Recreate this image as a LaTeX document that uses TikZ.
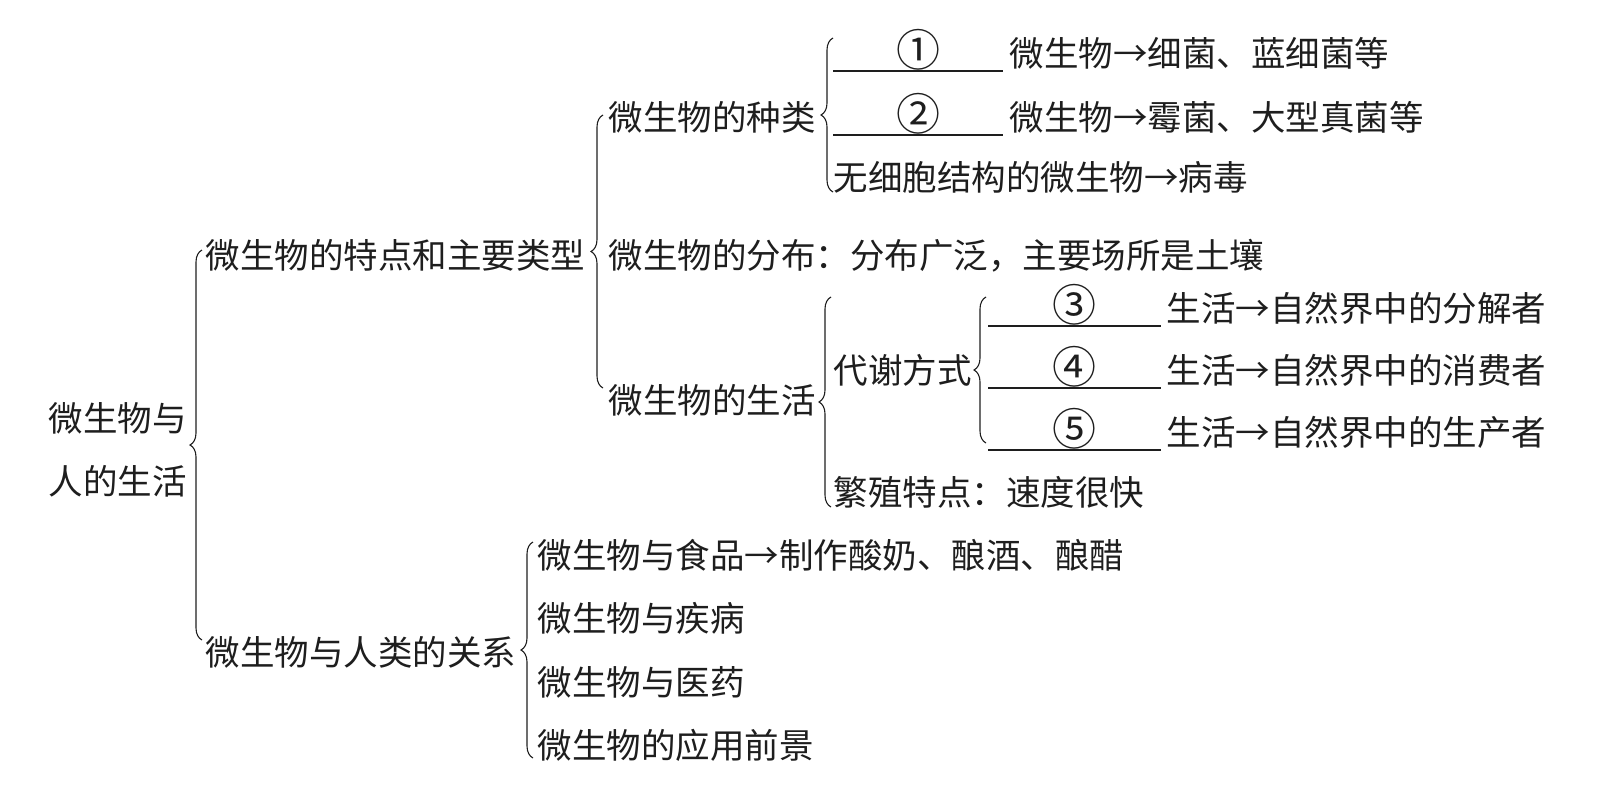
\documentclass[tikz,border=0pt]{standalone}
\usepackage{fontspec}
\newfontfamily\cjkfont{Noto Sans CJK SC}
\usepackage{xcolor}
\definecolor{ink}{HTML}{1E1E1E}
\usetikzlibrary{positioning,decorations.pathreplacing}
\tikzset{
  every picture/.style={line width=1pt},
  txt/.style={anchor=west, inner sep=0pt, text height=30.4pt, text depth=4.1pt, text=ink,
    font=\cjkfont\fontsize{34.5pt}{41pt}\selectfont},
  fillin/.style={txt, minimum width=#1, font=\cjkfont\fontsize{44pt}{48pt}\selectfont},
  fillin/.default=170pt,
  gap/.style={draw=ink, line width=1.6pt},
  brc/.style={draw=ink, line width=1.1pt, decorate, decoration={brace, amplitude=12pt}},
}

\begin{document}
\begin{tikzpicture}[x=1pt, y=-1pt]
  \useasboundingbox (0,0) rectangle (1616,793);
  % root
  \node[txt] (r1) at (48,418) {微生物与};
  \node[txt, below=27.5pt of r1] (r2) {人的生活};
  \node[txt] (t1) at (205,255) {微生物的特点和主要类型};
  \node[txt] (t2) at (205,652) {微生物与人类的关系};
  % features and types
  \node[txt] (k1) at (608,117) {微生物的种类};
  \node[txt] (k2) at (608,255) {微生物的分布：分布广泛，主要场所是土壤};
  \node[txt] (k3) at (608,400) {微生物的生活};
  \node[fillin=169pt] (n1) at (833,53) {①};
  \node[txt, right=6pt of n1] (s1) {微生物→细菌、蓝细菌等};
  \node[fillin=169pt] (n2) at (833,117) {②};
  \node[txt, right=6pt of n2] (s2) {微生物→霉菌、大型真菌等};
  \node[txt] (s3) at (833,177) {无细胞结构的微生物→病毒};
  \node[txt] (m1) at (833,370) {代谢方式};
  \node[txt] (m2) at (833,492) {繁殖特点：速度很快};
  \node[fillin=172pt] (n3) at (988,308) {③};
  \node[txt, right=5pt of n3] (s4) {生活→自然界中的分解者};
  \node[fillin=172pt] (n4) at (988,370) {④};
  \node[txt, right=5pt of n4] (s5) {生活→自然界中的消费者};
  \node[fillin=172pt] (n5) at (988,432) {⑤};
  \node[txt, right=5pt of n5] (s6) {生活→自然界中的生产者};
  % relations with people
  \node[txt] (f1) at (537,555) {微生物与食品→制作酸奶、酿酒、酿醋};
  \node[txt] (f2) at (537,618) {微生物与疾病};
  \node[txt] (f3) at (537,682) {微生物与医药};
  \node[txt] (f4) at (537,745) {微生物的应用前景};
  \foreach \n in {n1,n2,n3,n4,n5} \draw[gap] (\n.south west) -- (\n.south east);
  % braces
  \draw[brc] ([shift={(-3pt,12pt)}]t2.west) -- ([shift={(-3pt,5pt)}]t1.west);
  \draw[brc] ([shift={(-5pt,12pt)}]k3.west) -- ([shift={(-5pt,2pt)}]k1.west);
  \draw[brc] ([shift={(0pt,-15pt)}]s3.west) -- ([shift={(0pt,15pt)}]n1.west);
  \draw[brc] ([shift={(-2pt,-15pt)}]m2.west) -- ([shift={(-2pt,73pt)}]m1.west);
  \draw[brc] ([shift={(-2pt,-11pt)}]n5.west) -- ([shift={(-2pt,11pt)}]n3.west);
  \draw[brc] ([shift={(-4pt,-13pt)}]f4.west) -- ([shift={(-4pt,13pt)}]f1.west);
\end{tikzpicture}
\end{document}
